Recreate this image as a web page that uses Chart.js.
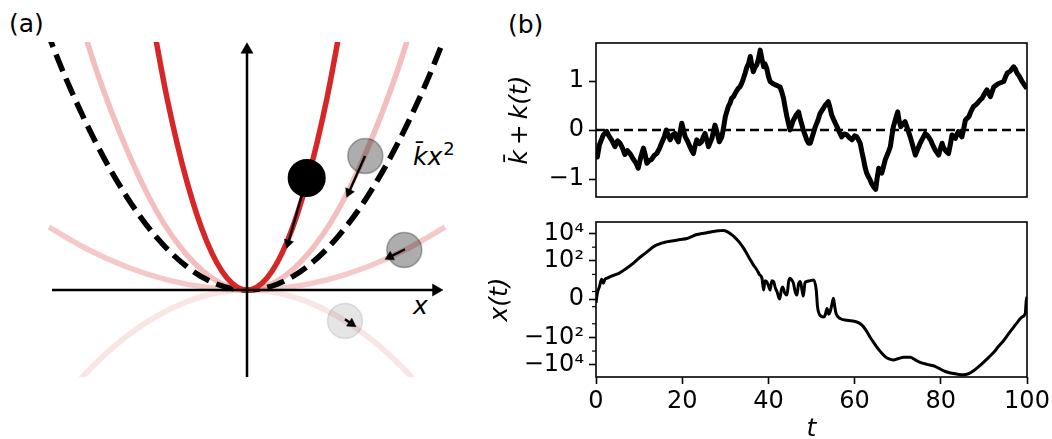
<!DOCTYPE html>
<html>
<head>
<meta charset="utf-8">
<script src="https://cdn.jsdelivr.net/npm/chart.js@4.4.1/dist/chart.umd.min.js"></script>
<style>
  html, body { margin: 0; padding: 0; background: #fff; }
  body { width: 1052px; height: 439px; position: relative; overflow: hidden; font-family: "DejaVu Sans", sans-serif; color: #000; }
  canvas { position: absolute; }
  .lbl { position: absolute; font-size: 25px; line-height: 25px; white-space: nowrap; }
  .lbl i { font-style: italic; }
  .lbl sup { font-size: 18px; vertical-align: baseline; position: relative; top: -10px; margin-left: 1px; }
</style>
</head>
<body>
<div class="lbl" style="left:9px;top:11px">(a)</div>
<div class="lbl" style="left:508px;top:12px">(b)</div>
<div class="lbl" style="left:413px;top:144px"><i>k̄x</i><sup>2</sup></div>
<div class="lbl" style="left:413px;top:293px"><i>x</i></div>
<canvas id="potential" width="414" height="349" style="left:40px;top:35px"></canvas>
<canvas id="kTrace" width="572" height="205" style="left:480px;top:0px"></canvas>
<canvas id="xTrace" width="572" height="234" style="left:480px;top:205px"></canvas>
<script>
// ---------- panel (a): potentials, schematic units ----------
const UNIT_PX = 200; // 400px wide area spans x in [-1, 1]

const RED_X = [-0.5, -0.4, -0.3, -0.2, -0.1, 0, 0.1, 0.2, 0.3, 0.4, 0.5];
const RED_Y = [1.5, 0.96, 0.54, 0.24, 0.06, 0, 0.06, 0.24, 0.54, 0.96, 1.5];

const PINK_X = [-0.9, -0.75, -0.6, -0.45, -0.3, -0.15, 0, 0.15, 0.3, 0.45, 0.6, 0.75, 0.9];
const PINK_Y = [1.57, 1.09, 0.70, 0.39, 0.175, 0.044, 0, 0.044, 0.175, 0.39, 0.70, 1.09, 1.57];

const KBAR_X = [-1.05, -0.9, -0.75, -0.6, -0.45, -0.3, -0.15, 0, 0.15, 0.3, 0.45, 0.6, 0.75, 0.9, 1.05];
const KBAR_Y = [1.42, 1.045, 0.726, 0.464, 0.261, 0.116, 0.029, 0, 0.029, 0.116, 0.261, 0.464, 0.726, 1.045, 1.42];

const FLAT_X = [-0.99, -0.8, -0.6, -0.4, -0.2, 0, 0.2, 0.4, 0.6, 0.8, 0.99];
const FLAT_Y = [0.314, 0.205, 0.115, 0.051, 0.013, 0, 0.013, 0.051, 0.115, 0.205, 0.314];

const NEG_X = [-0.9, -0.75, -0.6, -0.45, -0.3, -0.15, 0, 0.15, 0.3, 0.45, 0.6, 0.75, 0.9];
const NEG_Y = [-0.518, -0.36, -0.23, -0.13, -0.058, -0.014, 0, -0.014, -0.058, -0.13, -0.23, -0.36, -0.518];

// axis arrows: tail x, tail y, tip x, tip y
const AXES = [[-0.975, 0, 0.98, 0], [0, -0.435, 0, 1.236]];

// particles and their kicks
const BALL_X = [0.2985, 0.5915, 0.7865, 0.49];
const BALL_Y = [0.56, 0.67, 0.2, -0.155];
const BALL_R = [18.3, 17.5, 17.5, 17.5];
const BALL_FILL = ['#000', 'rgba(0,0,0,0.32)', 'rgba(0,0,0,0.32)', 'rgba(0,0,0,0.1)'];
const BALL_EDGE = ['#000', 'rgba(0,0,0,0.3)', 'rgba(0,0,0,0.3)', 'rgba(0,0,0,0.1)'];
const KICK_X0 = [0.2985, 0.59, 0.79, 0.49];
const KICK_Y0 = [0.56, 0.67, 0.2035, -0.1465];
const KICK_X1 = [0.1985, 0.4985, 0.69, 0.545];
const KICK_Y1 = [0.2085, 0.4635, 0.1535, -0.1835];

// ---------- panel (b) ----------
const KBAR = 0;
const T_K = [0, 0.3, 0.8, 1.7, 2.5, 3.0, 3.6, 4.4, 5.0, 5.6, 6.2, 6.7, 7.3, 7.9, 8.7, 9.3, 9.8, 10.4, 11.0, 11.4,
  11.8, 12.4, 12.9, 13.5, 14.1, 14.7, 15.2, 15.8, 16.3, 16.8, 17.2, 17.8, 18.3, 18.7, 19.1, 19.5, 19.9, 20.3, 20.7, 21.2,
  21.8, 22.2, 22.6, 23.0, 23.4, 24.0, 24.5, 24.9, 25.3, 25.7, 26.1, 26.5, 26.9, 27.2, 27.6, 28.1, 28.6, 29.2, 29.6, 30.0,
  30.7, 31.1, 31.5, 31.9, 32.3, 33.0, 33.4, 33.8, 34.2, 34.6, 35.0, 35.4, 35.8, 36.1, 36.5, 36.9, 37.3, 37.7, 38.1, 38.5,
  38.9, 39.2, 39.6, 40.0, 40.4, 41.0, 41.6, 42.2, 42.7, 43.1, 43.5, 43.9, 44.3, 44.7, 45.0, 45.4, 45.8, 46.4, 47.0, 47.4,
  47.8, 48.1, 48.5, 48.9, 49.3, 49.7, 50.3, 50.9, 51.5, 52.0, 52.6, 53.2, 53.9, 54.3, 54.7, 55.3, 55.9, 56.5, 57.0, 57.6,
  58.2, 58.8, 59.4, 60.0, 60.5, 60.9, 61.3, 61.7, 62.1, 62.4, 62.8, 63.2, 63.6, 64.0, 64.4, 64.9, 65.2, 65.6, 65.9, 66.3,
  66.7, 67.1, 67.7, 68.3, 68.6, 69.0, 69.5, 70.0, 70.3, 70.7, 71.2, 71.7, 72.3, 72.9, 73.5, 74.1, 74.6, 75.2, 75.8, 76.4,
  77.0, 77.6, 78.1, 78.7, 79.1, 79.5, 79.9, 80.3, 80.6, 81.0, 81.4, 81.8, 82.2, 82.6, 83.0, 83.4, 83.8, 84.1, 84.5, 84.9,
  85.3, 85.7, 86.1, 86.5, 87.0, 87.6, 88.2, 88.8, 89.2, 89.6, 90.2, 90.7, 91.1, 91.5, 91.9, 92.3, 92.9, 93.4, 94.0, 94.6,
  95.0, 95.4, 96.1, 96.9, 97.3, 97.7, 98.2, 98.8, 99.4, 100];
const K_VAL = [-0.35, -0.55, -0.3, -0.1, -0.03, -0.12, -0.2, -0.34, -0.22, -0.27, -0.38, -0.5, -0.42, -0.48, -0.6, -0.68, -0.78, -0.55, -0.37, -0.5,
  -0.68, -0.62, -0.6, -0.52, -0.48, -0.38, -0.27, -0.15, 0, -0.12, -0.2, -0.1, -0.07, -0.18, -0.24, -0.05, 0.14, 0.0, -0.14, -0.22,
  -0.34, -0.42, -0.48, -0.32, -0.2, -0.28, -0.24, -0.14, -0.07, -0.2, -0.34, -0.25, -0.17, -0.05, 0.1, -0.05, -0.24, -0.14, 0.05, 0.27,
  0.48, 0.55, 0.65, 0.68, 0.75, 0.85, 0.88, 0.95, 1.05, 1.16, 1.28, 1.36, 1.5, 1.35, 1.19, 1.28, 1.33, 1.45, 1.63, 1.45,
  1.29, 1.35, 1.26, 1.1, 0.99, 0.95, 0.92, 0.9, 0.88, 0.78, 0.65, 0.45, 0.27, 0.12, 0, 0.1, 0.2, 0.3, 0.37, 0.22,
  0.1, 0.0, -0.1, -0.2, -0.27, -0.27, -0.1, 0.07, 0.2, 0.34, 0.42, 0.51, 0.58, 0.45, 0.3, 0.18, 0.07, -0.05, -0.14, -0.08,
  -0.1, -0.16, -0.2, -0.12, -0.14, -0.2, -0.27, -0.45, -0.61, -0.75, -0.88, -0.95, -1.02, -1.1, -1.16, -1.21, -1.0, -0.78, -0.85, -0.88,
  -0.75, -0.61, -0.48, -0.34, -0.15, 0.07, 0.22, 0.37, 0.2, 0.07, 0.12, 0.17, 0.02, -0.14, -0.32, -0.51, -0.4, -0.27, -0.17, -0.07,
  -0.12, -0.2, -0.3, -0.41, -0.46, -0.51, -0.38, -0.27, -0.35, -0.41, -0.45, -0.48, -0.3, -0.1, -0.14, -0.17, -0.08, -0.03, -0.08, -0.14,
  0.02, 0.2, 0.24, 0.27, 0.38, 0.48, 0.52, 0.58, 0.62, 0.65, 0.75, 0.82, 0.75, 0.68, 0.78, 0.88, 0.92, 0.95, 0.97, 0.99,
  1.08, 1.16, 1.2, 1.29, 1.24, 1.16, 1.1, 1.0, 0.92, 0.85];

const T_X = [0, 0.3, 0.8, 1.3, 1.7, 2.1, 2.7, 3.3, 4.4, 5.3, 6.3, 7.5, 8.7, 9.8, 11.0, 12.2, 13.3, 14.1, 14.9, 16.0,
  17.2, 18.3, 19.5, 21.1, 22.2, 23.4, 24.5, 25.7, 26.6, 27.6, 28.6, 29.6, 30.4, 31.1, 31.9, 32.7, 33.5, 34.2, 35.0, 35.8,
  36.5, 37.3, 37.9, 38.5, 38.9, 39.2, 39.6, 40.0, 40.4, 40.8, 41.2, 41.6, 42.0, 42.6, 43.0, 43.3, 43.8, 44.3, 44.7, 45.0,
  45.4, 45.8, 46.2, 46.6, 47.0, 47.4, 47.8, 48.1, 48.5, 48.9, 49.7, 50.5, 51.1, 51.4, 52.0, 52.8, 53.2, 53.6, 54.0, 54.3,
  54.7, 55.1, 55.4, 55.7, 56.7, 58.2, 60.5, 61.3, 62.1, 62.9, 63.6, 64.4, 65.2, 66.1, 67.1, 68.0, 69.0, 70.2, 71.4, 72.9,
  74.0, 75.2, 76.8, 78.3, 79.5, 80.7, 81.8, 83.0, 84.2, 85.3, 86.5, 87.6, 88.8, 89.9, 91.1, 92.3, 93.4, 94.6, 95.7, 96.9,
  97.9, 98.8, 99.6, 99.8, 100];
const X_VAL = [-0.5, 0.76, 1.64, 4.5, 2.3, 4.5, 5.5, 6.9, 9.3, 12, 19, 35, 68, 140, 280, 560, 1050, 1450, 1830, 2300,
  2700, 3100, 3600, 4300, 6000, 8500, 10000, 11300, 13000, 14900, 16000, 16900, 14000, 10000, 6500, 3600, 1800, 883, 330, 120,
  50, 22, 10, 5.3, 1.2, 3.5, 3.0, 1.8, 1.2, 3.5, 3.0, 1.5, 0.97, 0, 1.2, 1.6, 0.8, 0.53, 3, 5.3,
  4.0, 2.3, 1.0, 0.53, 2.0, 3.0, 1.2, 0.4, 2.5, 3.0, 3.5, 3.95, 1.2, -1.03, -2.4, -3.2, -2.2, -1.24, -2.0, -1.7,
  -0.8, 0.1, -1.0, -1.9, -4.2, -5.5, -7.4, -10, -17.4, -40, -96, -230, -530, -1200, -2570, -3800, -4530, -3500, -2900, -2900,
  -4300, -6800, -9500, -12000, -18000, -28000, -37000, -45000, -52000, -55700, -45000, -28000, -14000, -6800, -2900, -1230, -450, -168, -55, -17.4,
  -7, -3.2, -1.9, -0.36, 0.3];

const T_TICKS = [0, 20, 40, 60, 80, 100];
const K_TICKS = [-1, 0, 1];
const X_TICKS = [-10000, -100, 0, 100, 10000];
const X_TICK_LABELS = ['\u221210\u2074', '\u221210\u00b2', '0', '10\u00b2', '10\u2074'];
const X_MINOR = [-1000, -10, -1, 1, 10, 1000];

Chart.defaults.font.family = 'DejaVu Sans';
Chart.defaults.color = '#000';

// symmetric log scale (linthresh 2, base 10, linscale 1), like matplotlib's symlog
const LIN = 2, LADJ = 1 / (1 - 1 / 10);
function symT(v) {
  const a = Math.abs(v);
  return a <= LIN ? v * LADJ : Math.sign(v) * LIN * (LADJ + Math.log10(a / LIN));
}
function symInv(u) {
  const a = Math.abs(u);
  return a <= LIN * LADJ ? u / LADJ : Math.sign(u) * LIN * Math.pow(10, a / LIN - LADJ);
}
class SymlogScale extends Chart.Scale {
  determineDataLimits() {
    this.min = this.options.min;
    this.max = this.options.max;
  }
  buildTicks() { return []; }
  configure() {
    super.configure();
    this._t0 = symT(this.min);
    this._t1 = symT(this.max);
  }
  getLabelForValue(v) { return String(v); }
  getPixelForValue(v) {
    return this.getPixelForDecimal((symT(v) - this._t0) / (this._t1 - this._t0));
  }
  getValueForPixel(p) {
    return symInv(this._t0 + this.getDecimalForPixel(p) * (this._t1 - this._t0));
  }
}
SymlogScale.id = 'symlog';
SymlogScale.defaults = {};
Chart.register(SymlogScale);

const pts = (xs, ys) => xs.map((x, i) => ({x: x, y: ys[i]}));

// fixed axis sizes so the plot boxes land where the figure has them
const fixWidth = w => s => { s.width = w; s.paddingTop = 0; s.paddingBottom = 0; };
const fixHeight = h => s => { s.height = h; s.paddingLeft = 0; s.paddingRight = 0; };

// box around the axes
const frame = {
  id: 'frame',
  afterDatasetsDraw(chart) {
    const a = chart.chartArea, c = chart.ctx;
    c.save();
    c.strokeStyle = '#000';
    c.lineWidth = 1.6;
    c.strokeRect(a.left, a.top, a.right - a.left, a.bottom - a.top);
    c.restore();
  }
};
const minorTicks = {
  id: 'minorTicks',
  afterDraw(chart) {
    const y = chart.scales.y, c = chart.ctx, left = chart.chartArea.left;
    c.save();
    c.strokeStyle = '#000';
    c.lineWidth = 1.2;
    X_MINOR.forEach(v => {
      const py = y.getPixelForValue(v);
      c.beginPath(); c.moveTo(left - 4, py); c.lineTo(left, py); c.stroke();
    });
    c.restore();
  }
};

function arrow(x0, y0, x1, y1, r, width, order) {
  const len = Math.hypot(x1 - x0, y1 - y0);
  const back = r / UNIT_PX;
  const hx = x1 - (x1 - x0) / len * back, hy = y1 - (y1 - y0) / len * back;
  const rot = Math.atan2(x1 - x0, y1 - y0) * 180 / Math.PI;
  return {
    data: [{x: x0, y: y0}, {x: hx, y: hy}],
    borderColor: '#000', borderWidth: width,
    pointRadius: [0, r], pointStyle: 'triangle', pointRotation: [0, rot],
    pointBackgroundColor: '#000', pointBorderColor: '#000', pointBorderWidth: 0.5,
    clip: false, order: order
  };
}

const curve = (xs, ys, color, order, dash) => ({
  data: pts(xs, ys), borderColor: color, borderWidth: 5.5, pointRadius: 0,
  cubicInterpolationMode: 'monotone', borderDash: dash || [], clip: 0, order: order
});

const potDatasets = [
  curve(NEG_X, NEG_Y, 'rgba(214,39,40,0.12)', 9),
  curve(FLAT_X, FLAT_Y, 'rgba(214,39,40,0.25)', 8),
  curve(PINK_X, PINK_Y, 'rgba(214,39,40,0.3)', 7),
  curve(KBAR_X, KBAR_Y, '#000', 6, [18, 8]),
  curve(RED_X, RED_Y, '#d62728', 5),
  ...AXES.map(a => arrow(a[0], a[1], a[2], a[3], 7, 2.5, 4)),
  {
    type: 'scatter', data: pts(BALL_X, BALL_Y), pointRadius: BALL_R,
    pointBackgroundColor: BALL_FILL, pointBorderColor: BALL_EDGE, pointBorderWidth: 1.5,
    showLine: false, clip: false, order: 2
  },
  ...KICK_X0.map((x, i) => arrow(x, KICK_Y0[i], KICK_X1[i], KICK_Y1[i], 5.5, 2.4, 1))
];

new Chart(document.getElementById('potential'), {
  type: 'line',
  data: {datasets: potDatasets},
  options: {
    animation: false, responsive: false, events: [],
    layout: {padding: 7, autoPadding: false},
    elements: {line: {capBezierPoints: false}},
    plugins: {legend: {display: false}, tooltip: {enabled: false}},
    scales: {
      x: {type: 'linear', min: -1, max: 1, display: false},
      y: {type: 'linear', min: -0.435, max: 1.24, display: false}
    }
  }
});

const tickFont = {family: 'DejaVu Sans', size: 24};
const titleFont = {family: 'DejaVu Sans', size: 25, style: 'italic'};
const tickGrid = {drawOnChartArea: false, drawTicks: true, tickLength: 7, tickWidth: 1.6, tickColor: '#000'};

new Chart(document.getElementById('kTrace'), {
  type: 'line',
  data: {
    datasets: [
      {data: [{x: 0, y: KBAR}, {x: 100, y: KBAR}], borderColor: '#000', borderWidth: 2.5, borderDash: [9, 5], pointRadius: 0, order: 0},
      {data: pts(T_K, K_VAL), borderColor: '#000', borderWidth: 5, pointRadius: 0, borderJoinStyle: 'round', order: 1}
    ]
  },
  options: {
    animation: false, responsive: false, events: [],
    layout: {padding: {left: 0, top: 43, right: 25, bottom: 8}, autoPadding: false},
    plugins: {legend: {display: false}, tooltip: {enabled: false}},
    scales: {
      x: {type: 'linear', min: 0, max: 100, display: false},
      y: {
        type: 'linear', min: -1.367, max: 1.776,
        afterFit: fixWidth(116),
        afterBuildTicks(s) { s.ticks = K_TICKS.map(v => ({value: v})); },
        border: {display: false}, grid: tickGrid,
        ticks: {font: tickFont, padding: 5, callback: v => (v < 0 ? '\u2212' + Math.abs(v) : String(v))},
        title: {display: true, text: 'k\u0304\u2009+\u2009k(t)', font: titleFont, padding: {top: 25, bottom: 0}}
      }
    }
  },
  plugins: [frame]
});

new Chart(document.getElementById('xTrace'), {
  type: 'line',
  data: {
    datasets: [
      {data: pts(T_X, X_VAL), borderColor: '#000', borderWidth: 3, pointRadius: 0,
       cubicInterpolationMode: 'monotone', borderJoinStyle: 'round'}
    ]
  },
  options: {
    animation: false, responsive: false, events: [],
    layout: {padding: {left: 0, top: 17, right: 25, bottom: 0}, autoPadding: false},
    elements: {line: {capBezierPoints: false}},
    plugins: {legend: {display: false}, tooltip: {enabled: false}},
    scales: {
      x: {
        type: 'linear', min: 0, max: 100,
        afterFit: fixHeight(62),
        afterBuildTicks(s) { s.ticks = T_TICKS.map(v => ({value: v})); },
        border: {display: false}, grid: tickGrid,
        ticks: {font: tickFont, padding: 3, maxRotation: 0, autoSkip: false},
        title: {display: true, text: 't', font: {family: 'DejaVu Sans', size: 25, style: 'italic', lineHeight: 0.8}, padding: 0}
      },
      y: {
        type: 'symlog', min: -80000, max: 70000,
        afterFit: fixWidth(116),
        afterBuildTicks(s) { s.ticks = X_TICKS.map(v => ({value: v})); },
        border: {display: false}, grid: tickGrid,
        ticks: {font: tickFont, padding: 5, callback: v => X_TICK_LABELS[X_TICKS.indexOf(v)]},
        title: {display: true, text: 'x(t)', font: titleFont, padding: {top: 5, bottom: 0}}
      }
    }
  },
  plugins: [frame, minorTicks]
});
</script>
</body>
</html>
